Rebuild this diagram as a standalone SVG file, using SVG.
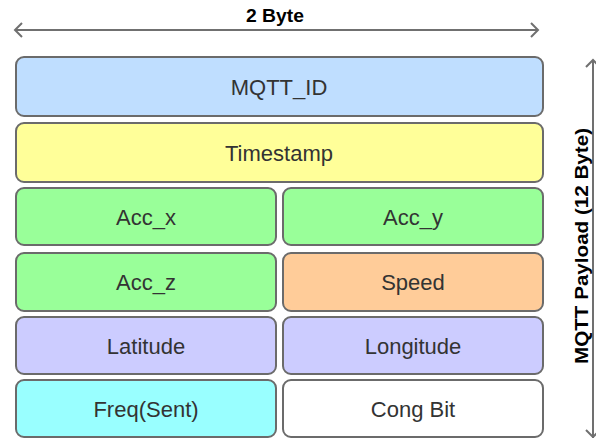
<svg xmlns="http://www.w3.org/2000/svg" width="596" height="438" viewBox="0 0 596 438">
  <style>
    .box { stroke: #6b6b6b; stroke-width: 2; }
    .lbl { font-family: "Liberation Sans", Arial, sans-serif; font-size: 22px; fill: #333333; text-anchor: middle; }
    .dim { font-family: "Liberation Sans", Arial, sans-serif; font-size: 18px; font-weight: bold; fill: #000000; text-anchor: middle; }
    .arrow { stroke: #707070; stroke-width: 2; fill: none; }
  </style>
  <rect width="596" height="438" fill="#ffffff"/>

  <g id="connectors">
    <!-- width dimension: 2 Byte -->
    <line class="arrow" x1="15" y1="30" x2="538" y2="30"/>
    <polyline class="arrow" points="22,23 15,30 22,37"/>
    <polyline class="arrow" points="531,23 538,30 531,37"/>
    <!-- height dimension: payload -->
    <line class="arrow" x1="593" y1="60" x2="593" y2="440"/>
    <polyline class="arrow" points="586,67 593,60 600,67"/>
    <polyline class="arrow" points="586,430 593,437 600,430"/>
  </g>

  <text class="dim" x="275" y="22" textLength="58" lengthAdjust="spacingAndGlyphs">2 Byte</text>
  <text class="dim" transform="translate(588,246) rotate(-90)" textLength="236" lengthAdjust="spacingAndGlyphs">MQTT Payload (12 Byte)</text>

  <g id="mqtt_id">
    <rect class="box" x="16" y="57" width="527" height="59" rx="8" fill="#bfdeff"/>
    <text class="lbl" x="279" y="95">MQTT_ID</text>
  </g>
  <g id="timestamp">
    <rect class="box" x="16" y="123" width="527" height="59" rx="8" fill="#ffff99"/>
    <text class="lbl" x="279" y="161">Timestamp</text>
  </g>
  <g id="acc_x">
    <rect class="box" x="16" y="188" width="260" height="57" rx="8" fill="#99ff99"/>
    <text class="lbl" x="146" y="225">Acc_x</text>
  </g>
  <g id="acc_y">
    <rect class="box" x="283" y="188" width="260" height="57" rx="8" fill="#99ff99"/>
    <text class="lbl" x="413" y="225">Acc_y</text>
  </g>
  <g id="acc_z">
    <rect class="box" x="16" y="253" width="260" height="58" rx="8" fill="#99ff99"/>
    <text class="lbl" x="146" y="290">Acc_z</text>
  </g>
  <g id="speed">
    <rect class="box" x="283" y="253" width="260" height="58" rx="8" fill="#ffcc99"/>
    <text class="lbl" x="413" y="290">Speed</text>
  </g>
  <g id="latitude">
    <rect class="box" x="16" y="317" width="260" height="57" rx="8" fill="#ccccff"/>
    <text class="lbl" x="146" y="354">Latitude</text>
  </g>
  <g id="longitude">
    <rect class="box" x="283" y="317" width="260" height="57" rx="8" fill="#ccccff"/>
    <text class="lbl" x="413" y="354">Longitude</text>
  </g>
  <g id="freq_sent">
    <rect class="box" x="16" y="380" width="260" height="57" rx="8" fill="#99ffff"/>
    <text class="lbl" x="146" y="417">Freq(Sent)</text>
  </g>
  <g id="cong_bit">
    <rect class="box" x="283" y="380" width="260" height="57" rx="8" fill="#ffffff"/>
    <text class="lbl" x="413" y="417">Cong Bit</text>
  </g>
</svg>
